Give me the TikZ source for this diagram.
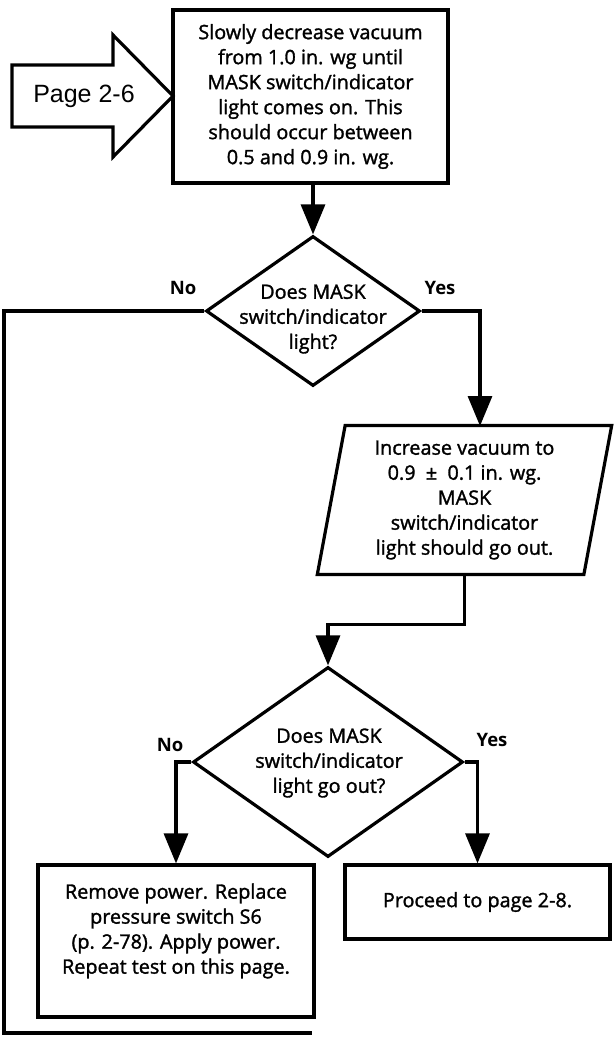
\documentclass[tikz,border=0pt]{standalone}
\usepackage{fontspec}
\setmainfont{Open Sans}
\newfontfamily\bodyfont{Open Sans}[FakeBold=1.5]
\newfontfamily\arialfont{Liberation Sans}
\usetikzlibrary{arrows.meta,shapes.geometric,calc}
\begin{document}
\begin{tikzpicture}[x=1pt,y=-1pt,
  line width=3.2pt,
  txt/.style={font=\bodyfont\fontsize{19.8}{25}\selectfont, align=center, inner sep=0pt},
  box/.style={draw, txt},
  arr/.style={-{Triangle[length=30pt,width=24pt]}},
  lab/.style={font=\bfseries\fontsize{18.5}{22}\selectfont, inner sep=0pt},
]
\fill[white] (0,0) rectangle (613,1046);
\useasboundingbox (0,0) rectangle (613,1046);

% entry arrow
\draw (12,65) -- (113,65) -- (113,35) -- (173,96) -- (113,157) -- (113,127) -- (12,127) -- cycle;
\node[font=\arialfont\fontsize{25}{28}\selectfont, inner sep=0pt] (pg) at (84,96) {Page 2-6};

% top box
\node[box, minimum width=275pt, minimum height=173pt] (top) at (310.5,96.5)
  {Slowly decrease vacuum\\from 1.0 in. wg until\\MASK switch/indicator\\light comes on. This\\should occur between\\0.5 and 0.9 in. wg.};

% decision 1
\node[draw, diamond, minimum width=214pt, minimum height=150pt, inner sep=0pt] (d1) at (313,311) {};
\node[txt] (d1t) at (313,319) {Does MASK\\switch/indicator\\light?};
\node[lab] (no1) at (183,288) {No};
\node[lab] (yes1) at (440,288) {Yes};

\draw[arr] (top.south -| d1.north) -- (d1.north);

% parallelogram
\node[draw, trapezium, trapezium left angle=80, trapezium right angle=100,
      trapezium stretches=true, minimum width=295pt, minimum height=149pt, txt] (par) at (464.5,500)
  {Increase vacuum to\\0.9 ~±~ 0.1 in. wg.\\MASK\\switch/indicator\\light should go out.};
\coordinate (parin) at (480,426);
\draw[arr] (d1.east) -| (parin);

% decision 2
\node[draw, diamond, minimum width=270pt, minimum height=190pt, inner sep=0pt] (d2) at (328,762) {};
\node[txt] (d2t) at (329,763) {Does MASK\\switch/indicator\\light go out?};
\node[lab] (no2) at (170,745) {No};
\node[lab] (yes2) at (492,740) {Yes};
\draw[arr] (par.south) -- ++(0,48) -| (d2.north);

% result boxes
\node[box, minimum width=276pt, minimum height=152pt] (rem) at (176,941) {};
\node[txt] (remt) at (176,931) {Remove power. Replace\\pressure switch S6\\(p. 2-78). Apply power.\\Repeat test on this page.};
\node[box, minimum width=265pt, minimum height=74pt] (pro) at (477.5,902) {Proceed to page 2-8.};
\draw[arr] (d2.west) -| (rem.north);
\draw[arr] (d2.east) -| (pro.north);

% "No" branch of decision 1
\coordinate (c1) at (4,311);
\coordinate (c2) at (4,1033);
\coordinate (c3) at (312,1033);
\draw (d1.west) -- (c1) -- (c2) -- (c3);
\end{tikzpicture}
\end{document}
